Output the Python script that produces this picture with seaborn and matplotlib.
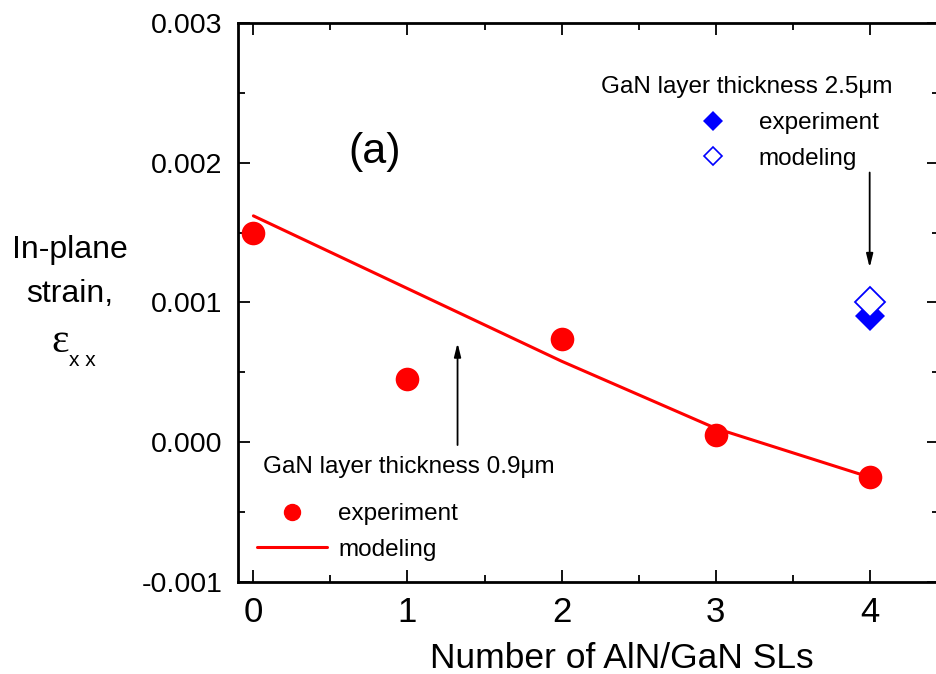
import numpy as np
import pandas as pd
import matplotlib
matplotlib.use("Agg")
import matplotlib.pyplot as plt
from matplotlib.lines import Line2D
from matplotlib.ticker import MultipleLocator
import seaborn as sns

# ---- data ----
n_sl = [0, 1, 2, 3, 4]
exp_09 = [0.0015, 0.00045, 0.00074, 0.00005, -0.00025]
model_09 = [0.00162, 0.0011, 0.00058, 0.0001, -0.00025]
n_sl_25 = [4]
exp_25 = [0.0009]
model_25 = [0.001]
x_ticks = [0, 1, 2, 3, 4]
y_ticks = [-0.001, 0.0, 0.001, 0.002, 0.003]
y_ticklabels = ["-0.001", "0.000", "0.001", "0.002", "0.003"]

sns.set_style("ticks")
REG = ["Liberation Sans", "DejaVu Sans"]
plt.rcParams["font.family"] = REG
for k in ["text.color", "axes.labelcolor", "xtick.color", "ytick.color", "axes.edgecolor"]:
    plt.rcParams[k] = "black"

fig = plt.figure(figsize=(9.36, 6.74), dpi=100)
W, H = 936, 674
L, R, T, B = 238, 939, 23, 582
ax = fig.add_axes([L / W, 1 - B / H, (R - L) / W, (B - T) / H])

def ax_xy(px, py):
    return ((px - L) / (R - L), (B - py) / (B - T))

df09 = pd.DataFrame({"n": n_sl, "exp": exp_09, "model": model_09})
df25 = pd.DataFrame({"n": n_sl_25, "exp": exp_25, "model": model_25})

sns.lineplot(data=df09, x="n", y="model", color="#ff0000", linewidth=2.2, ax=ax, zorder=2)
sns.scatterplot(data=df09, x="n", y="exp", color="#ff0000", s=17 ** 2, linewidth=0, ax=ax, zorder=3)
ax.plot(df25["n"], df25["exp"], marker="D", markersize=15.5, color="#0000ff",
        markeredgewidth=0, linestyle="none", zorder=3)
ax.plot(df25["n"], df25["model"], marker="D", markersize=15, markerfacecolor="white",
        markeredgecolor="#0000ff", markeredgewidth=1.3, linestyle="none", zorder=4)

ax.set_xlim(-0.1, 4.45)
ax.set_ylim(-0.001, 0.003)
ax.set_xticks(x_ticks)
ax.set_xticklabels([str(v) for v in x_ticks], fontsize=25)
ax.set_yticks(y_ticks)
ax.set_yticklabels(y_ticklabels, fontsize=20.5)
ax.xaxis.set_minor_locator(MultipleLocator(0.5))
ax.yaxis.set_minor_locator(MultipleLocator(0.0005))
ax.tick_params(which="both", direction="in", top=True, right=True, width=1.3, color="black",
               labelcolor="black")
ax.tick_params(which="major", length=8.5)
ax.tick_params(which="minor", length=5)
ax.tick_params(axis="x", pad=10)
ax.tick_params(axis="y", pad=11)
for sp in ax.spines.values():
    sp.set_linewidth(2)
    sp.set_color("black")
    sp.set_visible(True)

ax.set_xlabel("Number of AlN/GaN SLs", fontsize=25.5)
ax.xaxis.set_label_coords(*ax_xy(622, 668))
ax.xaxis.label.set_verticalalignment("baseline")
ax.set_ylabel("")

# y label (stacked, horizontal)
fig.text(70 / W, 1 - 258 / H, "In-plane", ha="center", va="baseline", fontsize=23)
fig.text(70 / W, 1 - 302 / H, "strain,", ha="center", va="baseline", fontsize=23)
fig.text(60 / W, 1 - 352 / H, "ε", ha="center", va="baseline", fontsize=30,
         fontfamily=["Liberation Serif", "DejaVu Serif"])
fig.text(82 / W, 1 - 366 / H, "x x", ha="center", va="baseline", fontsize=15)

# panel label
ax.text(*ax_xy(375, 152), "(a)", transform=ax.transAxes,
        ha="center", va="center", fontsize=31)

# legend titles
ax.text(*ax_xy(263, 473), "GaN layer thickness 0.9μm",
        transform=ax.transAxes, ha="left", va="baseline", fontsize=17.5)
ax.text(*ax_xy(601, 93), "GaN layer thickness 2.5μm",
        transform=ax.transAxes, ha="left", va="baseline", fontsize=17.5)

# legends
red_h = [Line2D([], [], marker="o", color="#ff0000", markersize=11.5, linestyle="none"),
         Line2D([], [], color="#ff0000", linewidth=2.2)]
blue_h = [Line2D([], [], marker="D", color="#0000ff", markersize=10, markeredgewidth=0,
                 linestyle="none"),
          Line2D([], [], marker="D", markerfacecolor="white", markeredgecolor="#0000ff",
                 markersize=9.5, markeredgewidth=1.2, linestyle="none")]
leg_kw = dict(frameon=False, loc="center left", borderpad=0, borderaxespad=0,
              handlelength=2.88, handletextpad=0.45, labelspacing=0.55,
              prop={"size": 17.5})
leg1 = ax.legend(red_h, ["experiment", "modeling"],
                 bbox_to_anchor=ax_xy(257, 532), **leg_kw)
ax.add_artist(leg1)
ax.legend(blue_h, ["experiment", "modeling"],
          bbox_to_anchor=ax_xy(678, 141), **leg_kw)

# arrows
arrow = dict(arrowstyle="-|>,head_length=0.8,head_width=0.2", color="black", lw=1.3,
             shrinkA=0, shrinkB=0)
ax.annotate("", xy=(4, 0.00125), xytext=(4, 0.00193), arrowprops=arrow)
ax.annotate("", xy=(1.325, 0.00071), xytext=(1.325, -0.00002), arrowprops=arrow)

fig.savefig("out.png", dpi=100)
